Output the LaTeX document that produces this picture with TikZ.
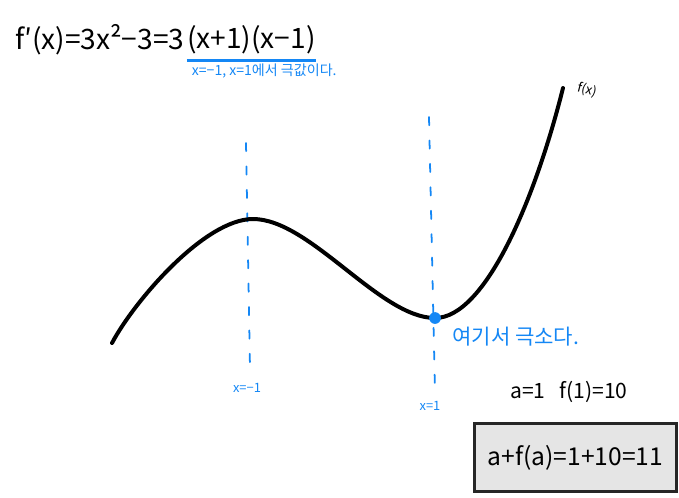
\documentclass[tikz,border=0pt]{standalone}
\usepackage{fontspec}
\setmainfont{Noto Sans CJK KR}
\usepackage{xcolor}
\usepackage{tikz}
\usetikzlibrary{positioning}
\definecolor{penblue}{RGB}{20,135,245}
\definecolor{boxgray}{RGB}{229,229,229}

\begin{document}
\begin{tikzpicture}[
    x=0.03cm, y=-0.03cm,
    hand/.style={font=\fontsize{#1}{#1}\selectfont, inner sep=0pt},
    curve/.style={draw=black, line width=3.4pt, line cap=round},
    guide/.style={draw=penblue, line width=1.5pt, dash pattern=on 7pt off 13pt, line cap=round},
    bluetext/.style={text=penblue}
]
    \useasboundingbox (0,0) rectangle (679,497);

    % Derivative, factored part underlined
    \node[hand=24, anchor=west] (deriv) at (15,40) {f′(x)=3x²−3=3};
    \node[hand=24, right=2pt of deriv] (factor) {(x+1)(x−1)};
    \draw[penblue, line width=2.5pt] ([yshift=-5pt]factor.south west) coordinate (ul) -- ([yshift=-5pt]factor.south east);
    \node[hand=12, bluetext, anchor=north west] (extnote) at ([xshift=4pt,yshift=-3pt]ul) {x=−1, x=1에서 극값이다.};

    % Vertical guides at x=-1 and x=1
    \coordinate (ltop) at (246,143);
    \coordinate (lbot) at (250,368);
    \coordinate (rtop) at (429,117);
    \coordinate (rbot) at (435,393);
    \draw[guide] (ltop) -- (lbot);
    \draw[guide] (rtop) -- (rbot);
    \node[hand=11, bluetext] (xm1) at (247,388) {x=−1};
    \node[hand=11, bluetext] (xp1) at (430,406) {x=1};

    % The cubic: max near x=-1, min at x=1
    \coordinate (start) at (112,343);
    \coordinate (maxpt) at (253,219);
    \coordinate (minpt) at (435,318);
    \coordinate (tip) at (563,88);
    \draw[curve] (start) .. controls (135,300) and (205,219) .. (maxpt)
        .. controls (310,219) and (380,318) .. (minpt)
        .. controls (485,318) and (535,200) .. (tip);
    \node[hand=11, rotate=-15] (fname) at (587,90) {f(x)};

    % Local minimum
    \fill[penblue] (minpt) circle[radius=5pt];
    \node[hand=18, bluetext, anchor=west] (minnote) at (452,337) {여기서 극소다.};

    % Result
    \node[hand=18, anchor=west] (vals) at (510,392) {a=1\hspace{12pt}f(1)=10};
    \node[hand=21, fill=boxgray, draw=black!85, line width=2.5pt,
          minimum width=172pt, minimum height=58pt] (sumbox) at (575.5,457.5) {a+f(a)=1+10=11};

\end{tikzpicture}
\end{document}
